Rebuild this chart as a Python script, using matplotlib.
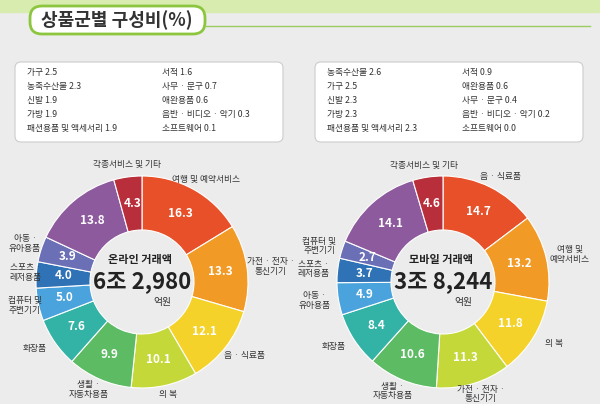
import matplotlib
matplotlib.use("Agg")
import matplotlib.pyplot as plt
from matplotlib.patches import FancyBboxPatch
import numpy as np

plt.rcParams['font.family'] = ['Noto Sans CJK KR', 'Noto Sans CJK JP', 'Noto Sans CJK SC', 'DejaVu Sans']

colors = ['#e8502a', '#f29a26', '#f5d22a', '#c5d83a', '#5dbb63', '#33b3a6',
          '#4aa3dc', '#2f72b5', '#6b6fb5', '#8e5a9e', '#b82e3a']

on_labels = ['여행 및 예약서비스', '가전 · 전자 ·\n통신기기', '음 · 식료품', '의 복', '생활 ·\n자동차용품',
             '화장품', '컴퓨터 및\n주변기기', '스포츠 ·\n레저용품', '아동 ·\n유아용품', '', '각종서비스 및 기타']
on_values = [16.3, 13.3, 12.1, 10.1, 9.9, 7.6, 5.0, 4.0, 3.9, 13.8, 4.3]
mo_labels = ['음 · 식료품', '여행 및\n예약서비스', '의 복', '가전 · 전자 ·\n통신기기', '생활 ·\n자동차용품',
             '화장품', '아동 ·\n유아용품', '스포츠 ·\n레저용품', '컴퓨터 및\n주변기기', '', '각종서비스 및 기타']
mo_values = [14.7, 13.2, 11.8, 11.3, 10.6, 8.4, 4.9, 3.7, 2.7, 14.1, 4.6]

on_box = [['가구 2.5', '농축수산물 2.3', '신발 1.9', '가방 1.9', '패션용품 및 액세서리 1.9'],
          ['서적 1.6', '사무 · 문구 0.7', '애완용품 0.6', '음반 · 비디오 · 악기 0.3', '소프트웨어 0.1']]
mo_box = [['농축수산물 2.6', '가구 2.5', '신발 2.3', '가방 2.3', '패션용품 및 액세서리 2.3'],
          ['서적 0.9', '애완용품 0.6', '사무 · 문구 0.4', '음반 · 비디오 · 악기 0.2', '소프트웨어 0.0']]

fig = plt.figure(figsize=(6, 4.04), dpi=100)
fig.patch.set_facecolor('#ececec')
ax = fig.add_axes([0, 0, 1, 1])

ax.add_patch(plt.Rectangle((0, 392), 600, 12, color='#d8ecb0'))
ax.add_patch(FancyBboxPatch((30, 370), 175, 28, boxstyle='round,pad=0,rounding_size=12',
                            fc='white', ec='#8cc63f', lw=2))
ax.text(117, 384, '상품군별 구성비(%)', ha='center', va='center', fontsize=13, weight='bold', color='#333')
ax.plot([205, 590], [378, 378], color='#9ccc60', lw=1)

def donut(cx, cy, vals, labs, box, bx, title, amount):
    ax.add_patch(FancyBboxPatch((bx, 262), 268, 80, boxstyle='round,pad=0,rounding_size=6',
                                fc='white', ec='#cccccc', lw=0.8))
    for c, col in enumerate(box):
        for i, t in enumerate(col):
            ax.text(bx + 12 + c * 135, 332 - i * 14, t, fontsize=6.3, va='center', color='#333')
    r = 106
    ax.pie(vals, colors=colors, startangle=90, counterclock=False, center=(cx, cy),
           radius=r, wedgeprops=dict(width=54, edgecolor='white', linewidth=0.8), frame=True)
    ang = 90.0
    for v, lab in zip(vals, labs):
        mid = np.deg2rad(ang - v * 1.8)
        ang -= v * 3.6
        ax.text(cx + 79 * np.cos(mid), cy + 79 * np.sin(mid), f'{v:.1f}', ha='center', va='center',
                fontsize=8.5, color='white', weight='bold')
        if lab:
            lx = cx + 130 * np.cos(mid)
            ly = cy + 118 * np.sin(mid)
            lx = min(max(lx, 25), 575)
            ly = max(ly, 10)
            ax.text(lx, ly, lab, ha='center', va='center',
                    fontsize=6.3, color='#333', linespacing=1.1)
    ax.text(cx - 2, cy + 22, title, ha='center', va='center', fontsize=8, weight='bold', color='#222')
    ax.text(cx, cy, amount, ha='center', va='center', fontsize=16, weight='bold', color='#222')
    ax.text(cx + 20, cy - 20, '억원', ha='center', va='center', fontsize=7, color='#333')

donut(142, 122, on_values, on_labels, on_box, 15, '온라인 거래액', '6조 2,980')
donut(443, 122, mo_values, mo_labels, mo_box, 315, '모바일 거래액', '3조 8,244')
ax.set_xlim(0, 600); ax.set_ylim(0, 404); ax.set_aspect('auto'); ax.axis('off')
fig.savefig('out.png', dpi=100, facecolor=fig.get_facecolor())
